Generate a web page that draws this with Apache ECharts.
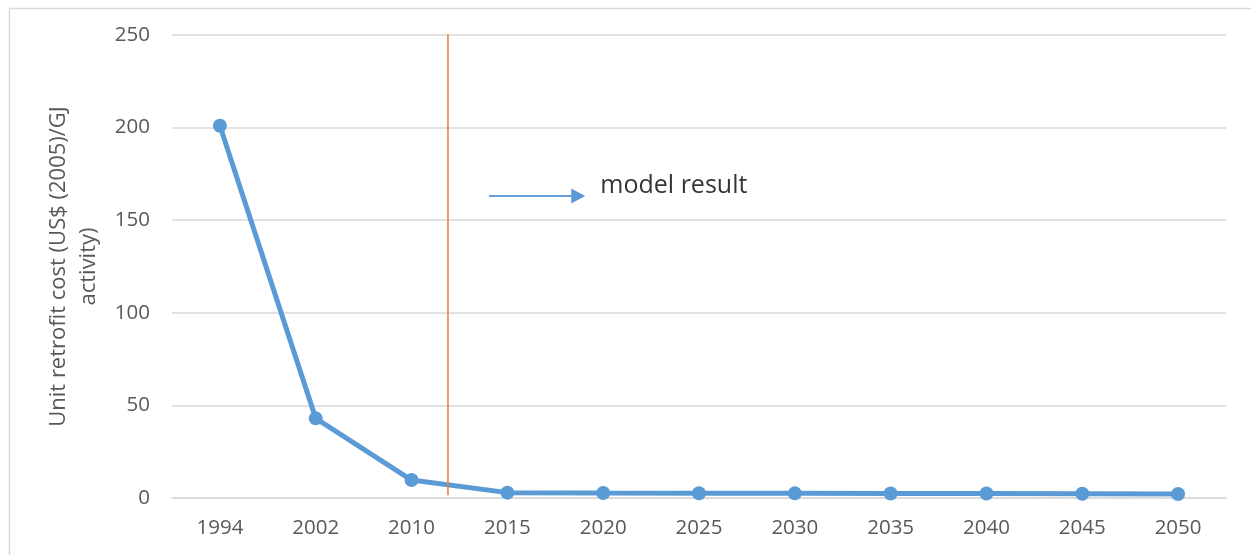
<!DOCTYPE html>
<html>
<head>
<meta charset="utf-8">
<script src="https://cdn.jsdelivr.net/npm/echarts@6/dist/echarts.min.js"></script>
<style>
  html, body { margin: 0; padding: 0; background: #fff; }
  #chart { width: 1251px; height: 555px; }
</style>
</head>
<body>
<div id="chart"></div>
<script>
// chart data
const years = ['1994', '2002', '2010', '2015', '2020', '2025', '2030', '2035', '2040', '2045', '2050']
const unitCost = [201, 43, 9.7, 2.9, 2.7, 2.6, 2.5, 2.4, 2.4, 2.3, 2.2]
const yTicks = { min: 0, max: 250, interval: 50 }

// annotation: split line between history and model, arrow + label (category index units)
const splitAt = 2.38
const arrowFrom = [2.81, 163]
const arrowTo = [3.74, 163]
const noteAt = [3.97, 168.5]
const noteText = 'model result'

const FONT = '"Open Sans", sans-serif'
const GREY = '#595959'

const chart = echarts.init(document.getElementById('chart'))

chart.setOption({
  animation: false,
  textStyle: { fontFamily: FONT },
  graphic: [
    {
      type: 'rect',
      left: 7, top: 6,
      shape: { width: 1270, height: 570 },
      style: { fill: 'none', stroke: '#D9D9D9', lineWidth: 1.5 },
      silent: true,
    },
  ],
  grid: { left: 172, right: 25, top: 35, bottom: 57 },
  xAxis: [
    {
      type: 'category',
      data: years,
      boundaryGap: true,
      axisLine: { lineStyle: { color: '#D9D9D9', width: 1.5 } },
      axisTick: { show: false },
      axisLabel: { color: GREY, fontSize: 20.5, margin: 20, fontFamily: FONT },
    },
    { type: 'value', min: -0.5, max: 10.5, show: false },
  ],
  yAxis: {
    type: 'value',
    min: yTicks.min,
    max: yTicks.max,
    interval: yTicks.interval,
    name: 'Unit retrofit cost (US$ (2005)/GJ\nactivity)',
    nameLocation: 'middle',
    nameGap: 66,
    nameTextStyle: { color: GREY, fontSize: 22, lineHeight: 30, fontFamily: FONT },
    axisLine: { show: false },
    axisTick: { show: false },
    axisLabel: { color: GREY, fontSize: 20.5, margin: 22, fontFamily: FONT },
    splitLine: { lineStyle: { color: '#D9D9D9', width: 1.5 } },
  },
  series: [
    {
      type: 'line',
      data: unitCost,
      symbol: 'circle',
      symbolSize: 14,
      lineStyle: { color: '#5B9BD5', width: 5 },
      itemStyle: { color: '#5B9BD5' },
      z: 3,
    },
    {
      type: 'line',
      xAxisIndex: 1,
      data: [[splitAt, 1.5], [splitAt, 251]],
      symbol: 'none',
      lineStyle: { color: '#ED7D31', width: 1.5 },
      z: 4,
    },
    {
      type: 'line',
      xAxisIndex: 1,
      data: [arrowFrom, arrowTo],
      symbol: 'none',
      lineStyle: { color: '#5B9BD5', width: 1.5 },
      markLine: {
        silent: true,
        symbol: ['none', 'triangle'],
        symbolSize: [15, 14],
        label: { show: false },
        lineStyle: { color: '#5B9BD5', width: 1.5, type: 'solid' },
        data: [[{ coord: arrowFrom }, { coord: arrowTo }]],
      },
    },
    {
      type: 'scatter',
      xAxisIndex: 1,
      data: [noteAt],
      symbolSize: 0,
      label: {
        show: true,
        position: 'right',
        distance: 0,
        formatter: noteText,
        color: '#000',
        fontSize: 25,
        fontFamily: FONT,
      },
    },
  ],
})
</script>
</body>
</html>
